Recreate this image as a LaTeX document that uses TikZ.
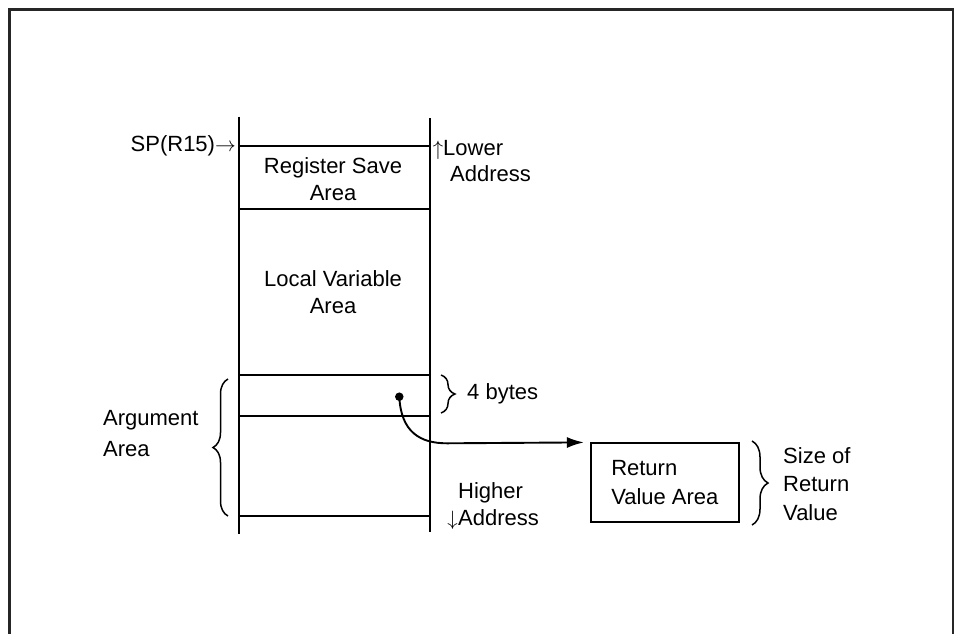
\documentclass[tikz,border=0pt]{standalone}
\usepackage{fontspec}
\setmainfont{Liberation Sans}
\usetikzlibrary{decorations.pathreplacing,arrows.meta}
\begin{document}
\begin{tikzpicture}[x=1pt,y=-1pt,
  every node/.style={inner sep=0pt, font=\fontsize{22}{27}\selectfont},
  stackline/.style={line width=1.9pt},
  bracestyle/.style={line width=1.5pt, decorate, decoration={brace, amplitude=#1}},
  frameline/.style={line width=2.2pt, black!85}]
\useasboundingbox (0,0) rectangle (960,633);
% outer frame
\draw[frameline] (9.5,640) -- (9.5,9.5) -- (953,9.5) -- (953,640);
% stack
\draw[stackline] (239.3,116.7) -- (239.3,534);
\draw[stackline] (430,118) -- (430,532);
\foreach \yy in {146,209,375,416,515.7}
  \draw[stackline] (239.3,\yy) -- (430,\yy);
% labels (multi-line nodes: base anchor = last line)
\node[anchor=base east] (sp) at (236,151.7) {SP(R15)$\rightarrow$};
\node[align=center, anchor=base] (rsa) at (333,200.7) {Register Save\\Area};
\node[align=center, anchor=base] (lva) at (333,313.3) {Local Variable\\Area};
\node[anchor=base east] (uparr) at (443.5,155) {$\uparrow$};
\node[align=left, anchor=base west, font=\fontsize{22}{26.7}\selectfont] (low) at (443,181.7) {Lower\\\hspace*{7pt}Address};
\node[anchor=base east] (dnarr) at (458,525) {$\downarrow$};
\node[align=left, anchor=base west, font=\fontsize{22}{26.5}\selectfont] (hi) at (458,525) {Higher\\Address};
\node[anchor=base west] (fb) at (467,399) {4 bytes};
\node[align=left, anchor=base west, font=\fontsize{22}{30.5}\selectfont] (arg) at (103,456) {Argument\\Area};
\node[align=left, anchor=base west, font=\fontsize{22}{28.3}\selectfont] (sz) at (783,520) {Size of\\Return\\Value};
% return value box
\node[draw, line width=1.9pt, minimum width=148pt, minimum height=79pt, align=left,
  font=\fontsize{22}{28.7}\selectfont] (rv) at (664.85,482.8) {Return\\Value Area};
% dot and arrow
\node[circle, fill, minimum size=8.5pt] (dot) at (399.3,396.7) {};
\draw[line width=1.9pt, -{Latex[length=17pt,width=11pt]}, shorten >=6pt]
  (dot.center) .. controls (401,432) and (420,443.3) .. (447,443.3) -- (rv.north west);
% braces
\draw[bracestyle=14pt] (441,375) -- (441,413);
\draw[bracestyle=15pt] (228,516) -- (228,379);
\draw[bracestyle=16pt] (752,441) -- (752,525);
\end{tikzpicture}
\end{document}
